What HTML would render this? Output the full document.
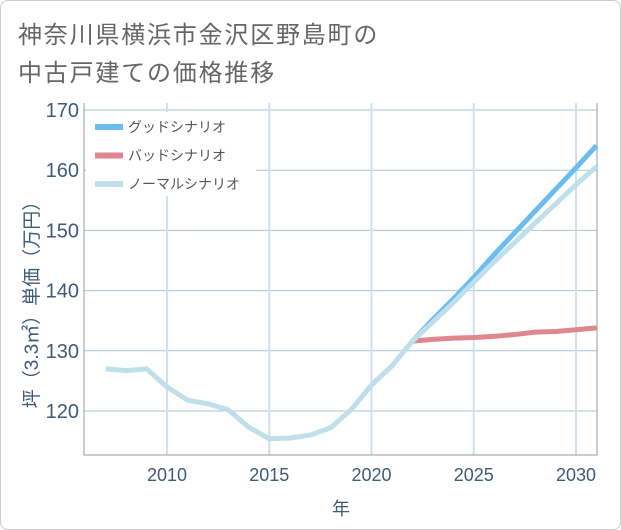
<!DOCTYPE html>
<html><head><meta charset="utf-8"><style>
body{margin:0;background:#fff;}
.card{position:absolute;left:0;top:0;width:619px;height:528px;border:1px solid #ccc;border-radius:8px;background:#fff;}
.t{position:absolute;left:18px;font:24px "Liberation Sans","Noto Sans CJK JP",sans-serif;letter-spacing:1.8px;color:#666;}
svg{position:absolute;left:0;top:0;}
text{font-family:"Liberation Sans","Noto Sans CJK JP",sans-serif;}
</style></head><body>
<div class="card"></div>
<div class="t" style="top:15px">神奈川県横浜市金沢区野島町の</div>
<div class="t" style="top:53px">中古戸建ての価格推移</div>
<svg id="c" width="621" height="530"></svg>
<script>
const years=[2007,2008,2009,2010,2011,2012,2013,2014,2015,2016,2017,2018,2019,2020,2021,2022,2023,2024,2025,2026,2027,2028,2029,2030,2031];
const normalVals=[127.0,126.7,127.0,124.0,121.8,121.2,120.2,117.3,115.4,115.5,116.0,117.2,120.2,124.3,127.5,131.6,134.8,138.0,141.4,144.8,148.0,151.2,154.4,157.6,160.6];
const futYears=[2022,2023,2024,2025,2026,2027,2028,2029,2030,2031];
const goodVals=[131.6,135.2,138.6,142.2,146.0,149.6,153.2,156.8,160.4,164.1];
const badVals=[131.6,131.9,132.1,132.2,132.4,132.7,133.1,133.2,133.5,133.8];
const yTicks=[120,130,140,150,160,170];
const xTicks=[2010,2015,2020,2025,2030];
const L=84,R=597,T=103,B=455;
const X=y=>167+(y-2010)*(576-167)/20;
const Y=v=>411-(v-120)*6.02;
const s=document.getElementById('c'),NS='http://www.w3.org/2000/svg';
function mk(t,a){const e=document.createElementNS(NS,t);for(const k in a)e.setAttribute(k,a[k]);s.appendChild(e);return e;}
for(const v of yTicks){const g=mk('line',{x1:L,x2:R,y1:Y(v),y2:Y(v),stroke:'#a9c4da','stroke-width':1});


const t=mk('text',{x:L-5,y:Y(v)+7,'text-anchor':'end','font-size':20,fill:'#3f5a7a'});t.textContent=v;

}
for(const x of xTicks){const g=mk('line',{x1:X(x),x2:X(x),y1:T,y2:B,stroke:'#cfe0ee','stroke-width':2});


const t=mk('text',{x:X(x),y:B+26,'text-anchor':'middle','font-size':18,fill:'#3f5a7a'});t.textContent=x;

}
const ax=mk('path',{d:`M${L},${T}V${B}H${R}V${T}`,fill:'none',stroke:'#999','stroke-width':1});


const lg=mk('rect',{x:L+2,y:112,width:170,height:84,fill:'#fff'});


function line(xs,vs,col,name){const p=mk('polyline',{points:xs.map((x,i)=>X(x)+','+Y(vs[i])).join(' '),fill:'none',stroke:col,'stroke-width':5,'stroke-linejoin':'round'});

}
line(futYears,badVals,'#e0868f','bad-scenario-line');
line(futYears,goodVals,'#6bbdf1','good-scenario-line');
line(years,normalVals,'#bfdfeb','normal-scenario-line');
const leg=[['グッドシナリオ','#6bbdf1'],['バッドシナリオ','#e0868f'],['ノーマルシナリオ','#bfdfeb']];
leg.forEach((l,i)=>{const y=127+i*28.5;
const r=mk('line',{x1:95,x2:123,y1:y,y2:y,stroke:l[1],'stroke-width':6});


const t=mk('text',{x:128,y:y+5,'font-size':14,fill:'#555'});t.textContent=l[0];

});
const xt=mk('text',{x:341,y:515,'text-anchor':'middle','font-size':18,fill:'#3f5a7a'});xt.textContent='年';


const yt=mk('text',{x:0,y:0,'text-anchor':'middle','font-size':19,fill:'#3f5a7a',transform:'translate(38,300) rotate(-90)'});yt.textContent='坪（3.3㎡）単価（万円）';


</script>
</body></html>
